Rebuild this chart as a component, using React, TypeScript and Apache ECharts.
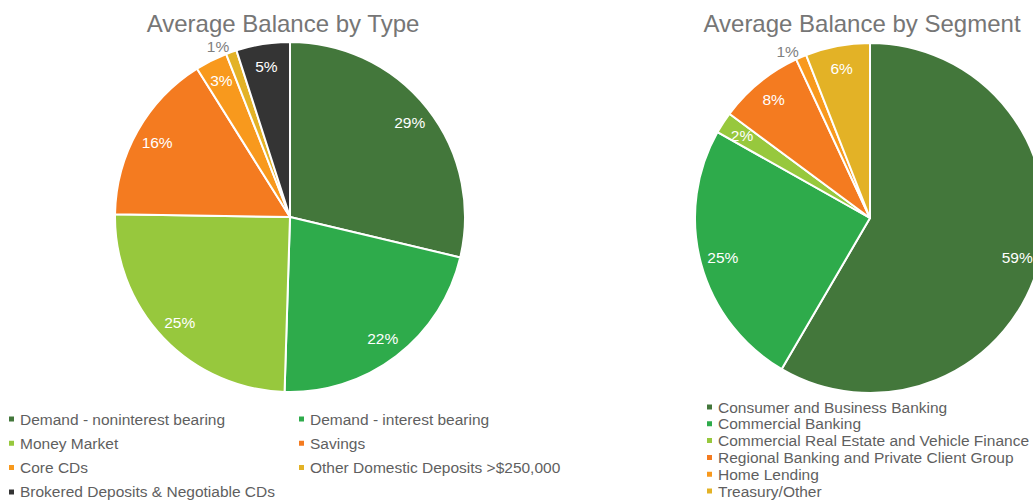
import React, { useEffect, useRef } from "react";
import * as echarts from "echarts";

const typeNames = [
  "Demand - noninterest bearing",
  "Demand - interest bearing",
  "Money Market",
  "Savings",
  "Core CDs",
  "Other Domestic Deposits >$250,000",
  "Brokered Deposits & Negotiable CDs",
];
const typeValues = [29, 22, 25, 16, 3, 1, 5];
const typeColors = ["#43773B", "#2EAB4B", "#97C83D", "#F47B20", "#F8991D", "#E3B226", "#343434"];

const segmentNames = [
  "Consumer and Business Banking",
  "Commercial Banking",
  "Commercial Real Estate and Vehicle Finance",
  "Regional Banking and Private Client Group",
  "Home Lending",
  "Treasury/Other",
];
const segmentValues = [59, 25, 2, 8, 1, 6];
const segmentColors = ["#43773B", "#2EAB4B", "#97C83D", "#F47B20", "#F8991D", "#E3B226"];

const titles = ["Average Balance by Type", "Average Balance by Segment"];

const FONT = "'Liberation Sans', Arial, sans-serif";
const TEXT_GREY = "#5F5F5F";

function mainPie(names: string[], values: number[], colors: string[], cx: number, cy: number) {
  return {
    type: "pie",
    center: [cx, cy],
    radius: 175,
    startAngle: 90,
    clockwise: true,
    silent: true,
    label: { show: false },
    labelLine: { show: false },
    itemStyle: { borderColor: "#ffffff", borderWidth: 2 },
    data: names.map((n, i) => ({ name: n, value: values[i], itemStyle: { color: colors[i] } })),
  };
}

function labelPie(names: string[], values: number[], cx: number, cy: number) {
  return {
    type: "pie",
    center: [cx, cy],
    radius: [124, 175],
    startAngle: 90,
    clockwise: true,
    silent: true,
    avoidLabelOverlap: false,
    itemStyle: { color: "rgba(0,0,0,0)", borderWidth: 0 },
    label: {
      show: true,
      position: "inside",
      formatter: "{c}%",
      color: "#ffffff",
      fontSize: 15.5,
      fontFamily: FONT,
    },
    labelLine: { show: false },
    data: names.map((n, i) => {
      const base: any = { name: n + " ", value: values[i] };
      if (values[i] <= 1) {
        base.label = {
          position: "outside",
          color: "#7F7F7F",
          distanceToLabelLine: 0,
        };
        base.labelLine = { show: false, length: 6, length2: 0 };
      }
      return base;
    }),
  };
}

export default function App() {
  const ref = useRef<HTMLDivElement>(null);
  useEffect(() => {
    if (!ref.current) return;
    const chart = echarts.init(ref.current, undefined, { renderer: "svg" });
    const legendText = { color: TEXT_GREY, fontSize: 15.5, fontFamily: FONT, lineHeight: 15 };
    const titleStyle = { color: "#767676", fontSize: 24, fontWeight: "normal", fontFamily: FONT };
    chart.setOption({
      animation: false,
      backgroundColor: "#ffffff",
      title: [
        { text: titles[0], left: 278, top: 6, textAlign: "center", textStyle: titleStyle },
        { text: titles[1], left: 857, top: 6, textAlign: "center", textStyle: titleStyle },
      ],
      legend: [
        {
          orient: "vertical",
          left: 7,
          top: 411,
          itemWidth: 7,
          itemHeight: 7,
          itemGap: 8.3,
          icon: "rect",
          padding: 0,
          textStyle: legendText,
          data: [typeNames[0], typeNames[2], typeNames[4], typeNames[6]],
        },
        {
          orient: "vertical",
          left: 297,
          top: 411,
          itemWidth: 7,
          itemHeight: 7,
          itemGap: 8.3,
          icon: "rect",
          padding: 0,
          textStyle: legendText,
          data: [typeNames[1], typeNames[3], typeNames[5]],
        },
        {
          orient: "vertical",
          left: 705,
          top: 399,
          itemWidth: 7,
          itemHeight: 7,
          itemGap: 0.8,
          icon: "rect",
          padding: 0,
          textStyle: legendText,
          data: segmentNames,
        },
      ],
      series: [
        mainPie(typeNames, typeValues, typeColors, 290, 217),
        labelPie(typeNames, typeValues, 290, 217),
        mainPie(segmentNames, segmentValues, segmentColors, 870, 218),
        labelPie(segmentNames, segmentValues, 870, 218),
      ],
    });
    return () => chart.dispose();
  }, []);
  return (
    <div
      ref={ref}
      style={{ position: "absolute", left: 0, top: 0, width: 1033, height: 504 }}
    />
  );
}
